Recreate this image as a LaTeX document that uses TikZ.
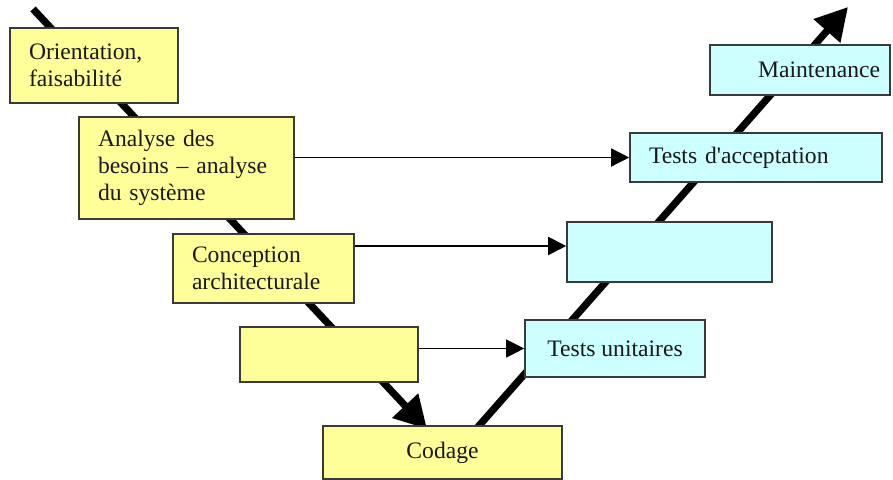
\documentclass[tikz,border=0pt]{standalone}
\usepackage{fontspec}
\setmainfont{Liberation Serif}
\usetikzlibrary{arrows.meta}
\definecolor{boxyellow}{HTML}{FFFF99}
\definecolor{boxcyan}{HTML}{CCFFFF}
\definecolor{boxline}{HTML}{3A3A3A}
\tikzset{
  box/.style={draw=boxline, line width=0.8pt, rectangle, inner ysep=0pt,
    font=\fontsize{11.8}{13.5}\selectfont, text=black!90},
  ybox/.style={box, fill=boxyellow},
  cbox/.style={box, fill=boxcyan},
  vline/.style={line width=3.6pt, -{Triangle[length=16pt,width=17pt]}},
  harrow/.style={-{Triangle[length=9pt,width=9pt]}},
}
\begin{document}
\begin{tikzpicture}[x=0.5pt,y=-0.5pt]
\path[use as bounding box] (0,0) rectangle (893,480);
% V-shaped thick lines (behind the boxes)
\coordinate (vstart) at (33,9);
\coordinate (vbottom) at (427,429);
\coordinate (vrstart) at (477,428);
\coordinate (vend) at (848,7);
\draw[vline] (vstart) -- (vbottom);
\draw[vline] (vrstart) -- (vend);
% left branch boxes
\node[ybox, minimum width=84pt, minimum height=37.5pt, inner xsep=9.5pt,
  text width=65pt, align=left] (orient) at (94,65.5) {Orientation,\\faisabilité};
\node[ybox, minimum width=107.5pt, minimum height=51pt, inner xsep=9.5pt,
  text width=88.5pt, align=left] (analyse) at (186.5,168) {Analyse des\\besoins – analyse\\du système};
\node[ybox, minimum width=90.5pt, minimum height=34.5pt, inner xsep=9.5pt,
  text width=71.5pt, align=left] (concep) at (263.5,268.5) {Conception\\architecturale};
\node[ybox, minimum width=89pt, minimum height=27.5pt] (detail) at (329,354.5) {};
\node[ybox, minimum width=119.5pt, minimum height=26.5pt] (codage) at (442.5,452.5) {Codage};
% right branch boxes
\node[cbox, minimum width=90pt, minimum height=28.5pt] (unit) at (615,348.5) {Tests unitaires};
\node[cbox, minimum width=102.5pt, minimum height=30pt] (integ) at (669.5,252) {};
\node[cbox, minimum width=126pt, minimum height=24.5pt, inner xsep=9.5pt,
  text width=107pt, align=left] (accept) at (756,157.5) {Tests d\textquotesingle acceptation};
\node[cbox, minimum width=90pt, minimum height=25pt, inner xsep=5pt,
  text width=80pt, align=right] (maint) at (800,70) {Maintenance};
% horizontal arrows
\draw[harrow, line width=0.7pt] (analyse.east |- accept.west) -- (accept.west);
\draw[harrow, line width=1pt] ([yshift=11.25pt]concep.east) -- ([yshift=11.25pt]concep.east -| integ.west);
\draw[harrow, line width=0.5pt] (detail.east |- unit.west) -- (unit.west);
\end{tikzpicture}
\end{document}
